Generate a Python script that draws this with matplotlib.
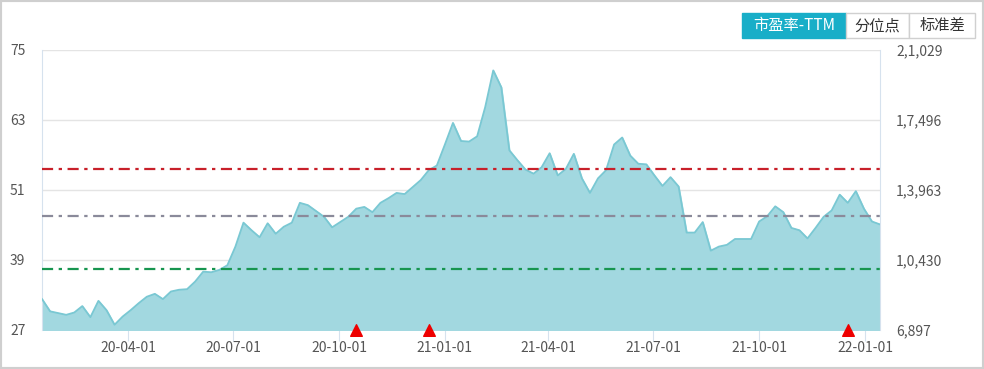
import matplotlib.pyplot as plt
import matplotlib.dates as mdates
from matplotlib.patches import Rectangle
import pandas as pd

plt.rcParams['font.family'] = ['Noto Sans CJK SC', 'DejaVu Sans']

# 每週市盈率-TTM
start_date = '2020-01-17'
pe_ttm = [32.3, 30.2, 29.9, 29.6, 30.0, 31.1, 29.2, 32.0, 30.4, 27.9,
          29.3, 30.4, 31.6, 32.7, 33.2, 32.3, 33.6, 33.9, 34.0, 35.3,
          37.0, 36.9, 37.3, 38.1, 41.3, 45.4, 44.1, 42.9, 45.3, 43.5,
          44.7, 45.4, 48.8, 48.4, 47.4, 46.4, 44.6, 45.5, 46.4, 47.8,
          48.1, 47.2, 48.8, 49.6, 50.5, 50.3, 51.5, 52.7, 54.4, 55.2,
          58.8, 62.5, 59.4, 59.3, 60.2, 65.2, 71.5, 68.6, 57.8, 56.1,
          54.5, 53.8, 54.9, 57.3, 53.5, 54.6, 57.2, 53.0, 50.5, 53.0,
          54.4, 58.8, 60.0, 56.9, 55.5, 55.4, 53.5, 51.7, 53.2, 51.6,
          43.7, 43.7, 45.5, 40.6, 41.3, 41.6, 42.6, 42.6, 42.6, 45.6,
          46.5, 48.2, 47.2, 44.5, 44.1, 42.7, 44.5, 46.4, 47.5, 50.2,
          48.8, 50.8, 47.8, 45.6, 45.1]
dates = pd.date_range(start_date, periods=len(pe_ttm), freq='7D')

# 參考線（危險值 / 中位值 / 機會值）
ref_levels = [54.6, 46.5, 37.5]
ref_colors = ['#c8202a', '#8a8a9a', '#17954f']

# 標記點
marker_dates = pd.to_datetime(['2020-10-16', '2020-12-18', '2021-12-17'])

left_ticks = [27, 39, 51, 63, 75]
right_labels = ['6,897', '1,0,430', '1,3,963', '1,7,496', '2,1,029']
x_ticks = pd.to_datetime(['2020-04-01', '2020-07-01', '2020-10-01', '2021-01-01',
                          '2021-04-01', '2021-07-01', '2021-10-01', '2022-01-01'])

fig = plt.figure(figsize=(9.84, 3.69), dpi=100)
fig.patches.append(Rectangle((0, 0), 1, 1, transform=fig.transFigure, fill=False,
                             edgecolor='#cfcfcf', linewidth=3))

ax = fig.add_axes([0.0427, 0.1057, 0.8516, 0.7588])
ax.fill_between(dates, pe_ttm, 27, color='#a2d8e0', zorder=2)
ax.plot(dates, pe_ttm, color='#7ac8d3', linewidth=1.3, zorder=3)

for lvl, c in zip(ref_levels, ref_colors):
    ax.axhline(lvl, color=c, linewidth=1.6, dashes=(5, 2.5, 1.5, 2.5), zorder=4)

ax.scatter(marker_dates, [27] * len(marker_dates), marker='^', s=70, color='#ee0000',
           zorder=5, clip_on=False)

ax.set_xlim(dates[0], dates[-1])
ax.set_ylim(27, 75)
ax.set_yticks(left_ticks)
ax.set_yticklabels([str(v) for v in left_ticks])
ax.grid(axis='y', color='#e4e4e4', linewidth=1)
ax.set_axisbelow(True)

ax.set_xticks(x_ticks)
ax.xaxis.set_major_formatter(mdates.DateFormatter('%y-%m-%d'))
ax.tick_params(axis='x', length=8, color='#d6e2ee', labelsize=10, labelcolor='#555555', pad=0)
ax.tick_params(axis='y', length=0, labelsize=10, labelcolor='#555555', pad=12)

for side in ['top', 'bottom']:
    ax.spines[side].set_visible(False)
for side in ['left', 'right']:
    ax.spines[side].set_color('#d6e2ee')

ax2 = ax.twinx()
ax2.set_ylim(27, 75)
ax2.set_yticks(left_ticks)
ax2.set_yticklabels(right_labels)
ax2.tick_params(axis='y', length=0, labelsize=10, labelcolor='#555555', pad=11.5)
for side in ['top', 'bottom', 'left', 'right']:
    ax2.spines[side].set_visible(False)

# 右上角按鈕
buttons = [('市盈率-TTM', 742, 846, True), ('分位点', 846, 909, False), ('标准差', 909, 975, False)]
W, H = 984, 369
for label, x0, x1, active in buttons:
    fc = '#18aec8' if active else 'white'
    ec = '#18aec8' if active else '#d0d0d0'
    fig.patches.append(Rectangle((x0 / W, 1 - 38 / H), (x1 - x0) / W, 25 / H,
                                 transform=fig.transFigure, facecolor=fc, edgecolor=ec,
                                 linewidth=1))
    fig.text((x0 + x1) / 2 / W, 1 - 25.5 / H, label, ha='center', va='center',
             fontsize=11, color='white' if active else '#333333')

fig.savefig('out.png', dpi=100)
